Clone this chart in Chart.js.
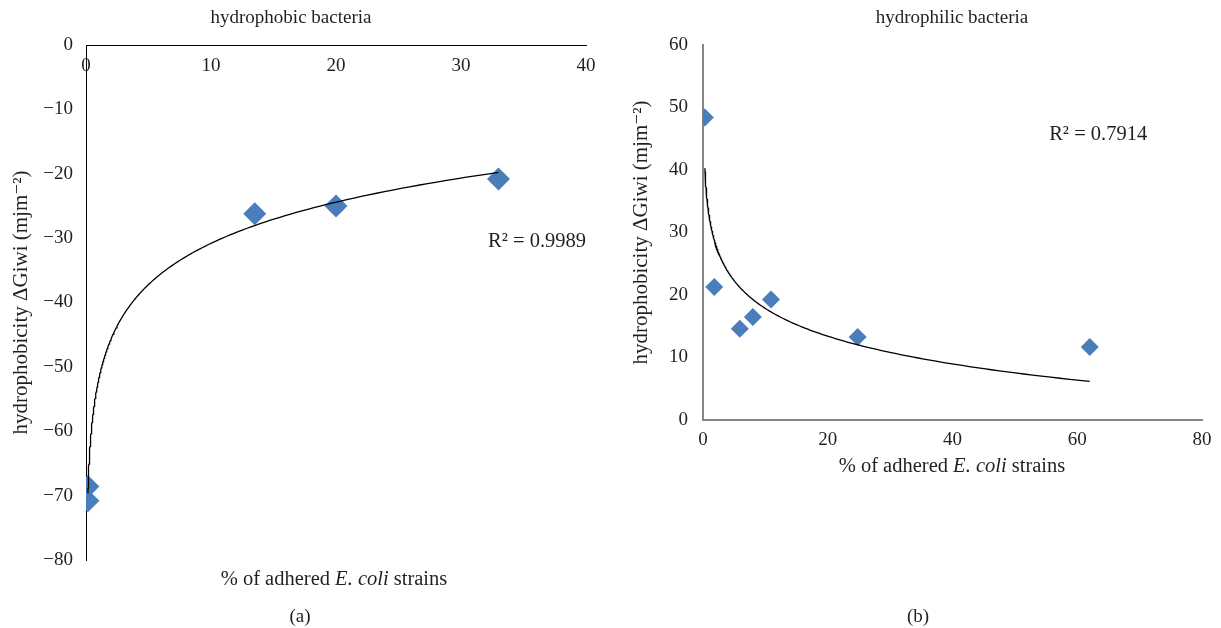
<!DOCTYPE html>
<html>
<head>
<meta charset="utf-8">
<script src="https://cdn.jsdelivr.net/npm/chart.js@4.4.1/dist/chart.umd.min.js"></script>
<style>
    html, body { margin: 0; padding: 0; background: #fff; }
    #wrap { position: relative; width: 1221px; height: 628px; overflow: hidden; }
    .box { position: absolute; top: 0; height: 628px; }
</style>
</head>
<body>
<div id="wrap">
    <div class="box" style="left:0;width:610px"><canvas id="phobicChart"></canvas></div>
    <div class="box" style="left:615px;width:606px"><canvas id="philicChart"></canvas></div>
</div>
<script>
// (a) hydrophobic bacteria
var phobicAdhered = [0.15, 0.15, 13.5, 20, 33];
var phobicGiwi = [-68.6, -70.8, -26.2, -25.0, -20.8];
var phobicXTicks = [0, 10, 20, 30, 40];
var phobicYTicks = [0, -10, -20, -30, -40, -50, -60, -70, -80];
var phobicR2 = '0.9989';

// (b) hydrophilic bacteria
var philicAdhered = [0.3, 1.8, 5.9, 8.0, 10.9, 24.8, 62];
var philicGiwi = [48.4, 21.3, 14.6, 16.5, 19.3, 13.3, 11.7];
var philicXTicks = [0, 20, 40, 60, 80];
var philicYTicks = [0, 10, 20, 30, 40, 50, 60];
var philicR2 = '0.7914';

var serif = "'Liberation Serif', 'DejaVu Serif', serif";
var ink = '#231f20';
var markerBlue = '#4a7ebb';

// Excel style logarithmic trendline: least squares on ln(x)
function logTrend(xs, ys) {
    var n = xs.length, mx = 0, my = 0;
    var lx = xs.map(function(v) { return Math.log(v); });
    for (var i = 0; i < n; i++) { mx += lx[i] / n; my += ys[i] / n; }
    var sxx = 0, sxy = 0;
    for (var j = 0; j < n; j++) {
        sxx += (lx[j] - mx) * (lx[j] - mx);
        sxy += (lx[j] - mx) * (ys[j] - my);
    }
    var a = sxy / sxx, b = my - a * mx;
    var lo = Math.min.apply(null, xs), hi = Math.max.apply(null, xs);
    var pts = [];
    for (var k = 0; k <= 200; k++) {
        var x = lo * Math.pow(hi / lo, k / 200);
        pts.push({ x: x, y: a * Math.log(x) + b });
    }
    return pts;
}

function toPoints(xs, ys) {
    return xs.map(function(x, i) { return { x: x, y: ys[i] }; });
}

function minusSign(v) {
    return String(v).replace('-', '\u2212');
}

// draws text runs (title, axis caption with italics, R² note, panel label)
var richText = {
    id: 'richText',
    afterDraw: function(chart, args, opts) {
        var ctx = chart.ctx;
        (opts.items || []).forEach(function(it) {
            var pos = it.at(chart);
            ctx.save();
            ctx.fillStyle = ink;
            ctx.textBaseline = 'middle';
            var fonts = it.parts.map(function(p) {
                return (p.italic ? 'italic ' : '') + it.size + 'px ' + serif;
            });
            var total = 0;
            it.parts.forEach(function(p, i) {
                ctx.font = fonts[i];
                total += ctx.measureText(p.t).width;
            });
            var x = pos.x;
            if (it.align === 'center') x -= total / 2;
            if (it.align === 'right') x -= total;
            it.parts.forEach(function(p, i) {
                ctx.font = fonts[i];
                ctx.textAlign = 'left';
                ctx.fillText(p.t, x, pos.y);
                x += ctx.measureText(p.t).width;
            });
            ctx.restore();
        });
    }
};

function tickSetter(list) {
    return function(scale) {
        scale.ticks = list.map(function(v) { return { value: v }; });
    };
}

var captionParts = [{ t: '% of adhered ' }, { t: 'E. coli', italic: true }, { t: ' strains' }];

// hydrophobic panel
new Chart(document.getElementById('phobicChart'), {
    type: 'scatter',
    data: {
        datasets: [{
            data: logTrend(phobicAdhered, phobicGiwi),
            showLine: true,
            borderColor: '#000',
            borderWidth: 1.3,
            pointRadius: 0,
            tension: 0
        }, {
            data: toPoints(phobicAdhered, phobicGiwi),
            pointStyle: 'rectRot',
            pointRadius: 11.5,
            backgroundColor: markerBlue,
            borderColor: markerBlue,
            borderWidth: 0
        }]
    },
    options: {
        responsive: true,
        maintainAspectRatio: false,
        animation: false,
        layout: { padding: { top: 45, bottom: 68, left: 0, right: 24 } },
        plugins: {
            legend: { display: false },
            tooltip: { enabled: false },
            richText: {
                items: [
                    { parts: [{ t: 'hydrophobic bacteria' }], size: 19, align: 'center',
                      at: function() { return { x: 291, y: 18 }; } },
                    { parts: [{ t: 'R\u00b2 = ' + phobicR2 }], size: 20.5, align: 'right',
                      at: function(c) { return { x: c.scales.x.getPixelForValue(40), y: c.scales.y.getPixelForValue(-30.5) }; } },
                    { parts: captionParts, size: 20.5, align: 'center',
                      at: function() { return { x: 334, y: 580 }; } },
                    { parts: [{ t: '(a)' }], size: 19, align: 'center',
                      at: function() { return { x: 300, y: 617 }; } }
                ]
            }
        },
        scales: {
            x: {
                type: 'linear',
                position: { y: 0 },
                min: 0,
                max: 40,
                afterBuildTicks: tickSetter(phobicXTicks),
                grid: { display: false },
                border: { display: true, color: '#000', width: 1 },
                ticks: { color: ink, padding: 2, font: { family: serif, size: 19 } }
            },
            y: {
                min: -80,
                max: 0,
                afterBuildTicks: tickSetter(phobicYTicks),
                afterFit: function(s) { s.width = 86; },
                grid: { display: false },
                border: { display: true, color: '#000', width: 1 },
                ticks: { color: ink, padding: 5, font: { family: serif, size: 19 }, callback: minusSign },
                title: {
                    display: true,
                    text: 'hydrophobicity \u0394Giwi (mjm\u207b\u00b2)',
                    color: ink,
                    padding: { top: 9, bottom: 0 },
                    font: { family: serif, size: 21 }
                }
            }
        }
    },
    plugins: [richText]
});

// hydrophilic panel
new Chart(document.getElementById('philicChart'), {
    type: 'scatter',
    data: {
        datasets: [{
            data: logTrend(philicAdhered, philicGiwi),
            showLine: true,
            borderColor: '#000',
            borderWidth: 1.3,
            pointRadius: 0,
            tension: 0
        }, {
            data: toPoints(philicAdhered, philicGiwi),
            pointStyle: 'rectRot',
            pointRadius: 9,
            backgroundColor: markerBlue,
            borderColor: markerBlue,
            borderWidth: 0
        }]
    },
    options: {
        responsive: true,
        maintainAspectRatio: false,
        animation: false,
        layout: { padding: { top: 45, bottom: 178, left: 0, right: 19 } },
        plugins: {
            legend: { display: false },
            tooltip: { enabled: false },
            richText: {
                items: [
                    { parts: [{ t: 'hydrophilic bacteria' }], size: 19, align: 'center',
                      at: function() { return { x: 337, y: 18 }; } },
                    { parts: [{ t: 'R\u00b2 = ' + philicR2 }], size: 20.5, align: 'left',
                      at: function(c) { return { x: c.scales.x.getPixelForValue(55.5), y: c.scales.y.getPixelForValue(45.6) }; } },
                    { parts: captionParts, size: 20.5, align: 'center',
                      at: function() { return { x: 337, y: 467 }; } },
                    { parts: [{ t: '(b)' }], size: 19, align: 'center',
                      at: function() { return { x: 303, y: 617 }; } }
                ]
            }
        },
        scales: {
            x: {
                type: 'linear',
                position: 'bottom',
                min: 0,
                max: 80,
                afterBuildTicks: tickSetter(philicXTicks),
                afterFit: function(s) { s.height = 30; },
                grid: { display: false },
                border: { display: true, color: '#868686', width: 2 },
                ticks: { color: ink, padding: 1, font: { family: serif, size: 19 } }
            },
            y: {
                min: 0,
                max: 60,
                afterBuildTicks: tickSetter(philicYTicks),
                afterFit: function(s) { s.width = 88; },
                grid: { display: false },
                border: { display: true, color: '#868686', width: 2 },
                ticks: { color: ink, padding: 7, font: { family: serif, size: 19 } },
                title: {
                    display: true,
                    text: 'hydrophobicity \u0394Giwi (mjm\u207b\u00b2)',
                    color: ink,
                    padding: { top: 14, bottom: 0 },
                    font: { family: serif, size: 21 }
                }
            }
        }
    },
    plugins: [richText]
});
</script>
</body>
</html>
